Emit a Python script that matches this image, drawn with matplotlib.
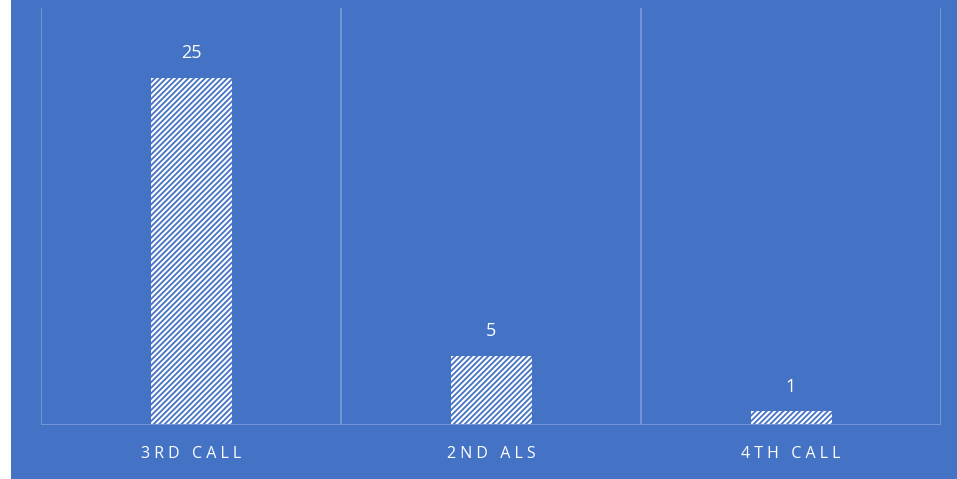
import matplotlib.pyplot as plt
from matplotlib.patches import Rectangle

categories = ["3RD CALL", "2ND ALS", "4TH CALL"]
counts = [25, 5, 1]

bg_colour = "#4472C4"
grid_colour = "#7295D6"
plt.rcParams['hatch.color'] = bg_colour
plt.rcParams['hatch.linewidth'] = 1.3

fig = plt.figure(figsize=(9.57, 4.79), dpi=100)
fig.patch.set_facecolor("white")
fig.patches.append(Rectangle((11 / 957, 0), 1 - 11 / 957, 1, transform=fig.transFigure,
                             facecolor=bg_colour, edgecolor="none", zorder=-10))

ax = fig.add_axes([41 / 957, 1 - 425 / 479, 900 / 957, 417 / 479])
ax.set_facecolor(bg_colour)

x = range(len(categories))
ax.bar(x, counts, width=0.27, color="white", edgecolor=bg_colour, hatch="//////", linewidth=0, zorder=2)

for i, v in enumerate(counts):
    ax.annotate(str(v), (i, v), xytext=(0, 11), textcoords="offset points",
                ha="center", va="bottom", color="white", fontsize=13, family="Open Sans")

ax.set_xlim(-0.5, 2.5)
ax.set_ylim(0, 30)
for b in [-0.5, 0.5, 1.5, 2.5]:
    ax.axvline(b, color=grid_colour, linewidth=1.5, zorder=1)

for s in ax.spines.values():
    s.set_visible(False)
ax.axhline(0, color=grid_colour, linewidth=1.5, zorder=3)

ax.set_xticks(list(x))
ax.set_xticklabels([" ".join(c) for c in categories], color="white", fontsize=11.5, family="Open Sans")
ax.tick_params(axis="x", length=0, pad=15)
ax.set_yticks([])

fig.savefig("out.png", dpi=100, facecolor=fig.get_facecolor())
